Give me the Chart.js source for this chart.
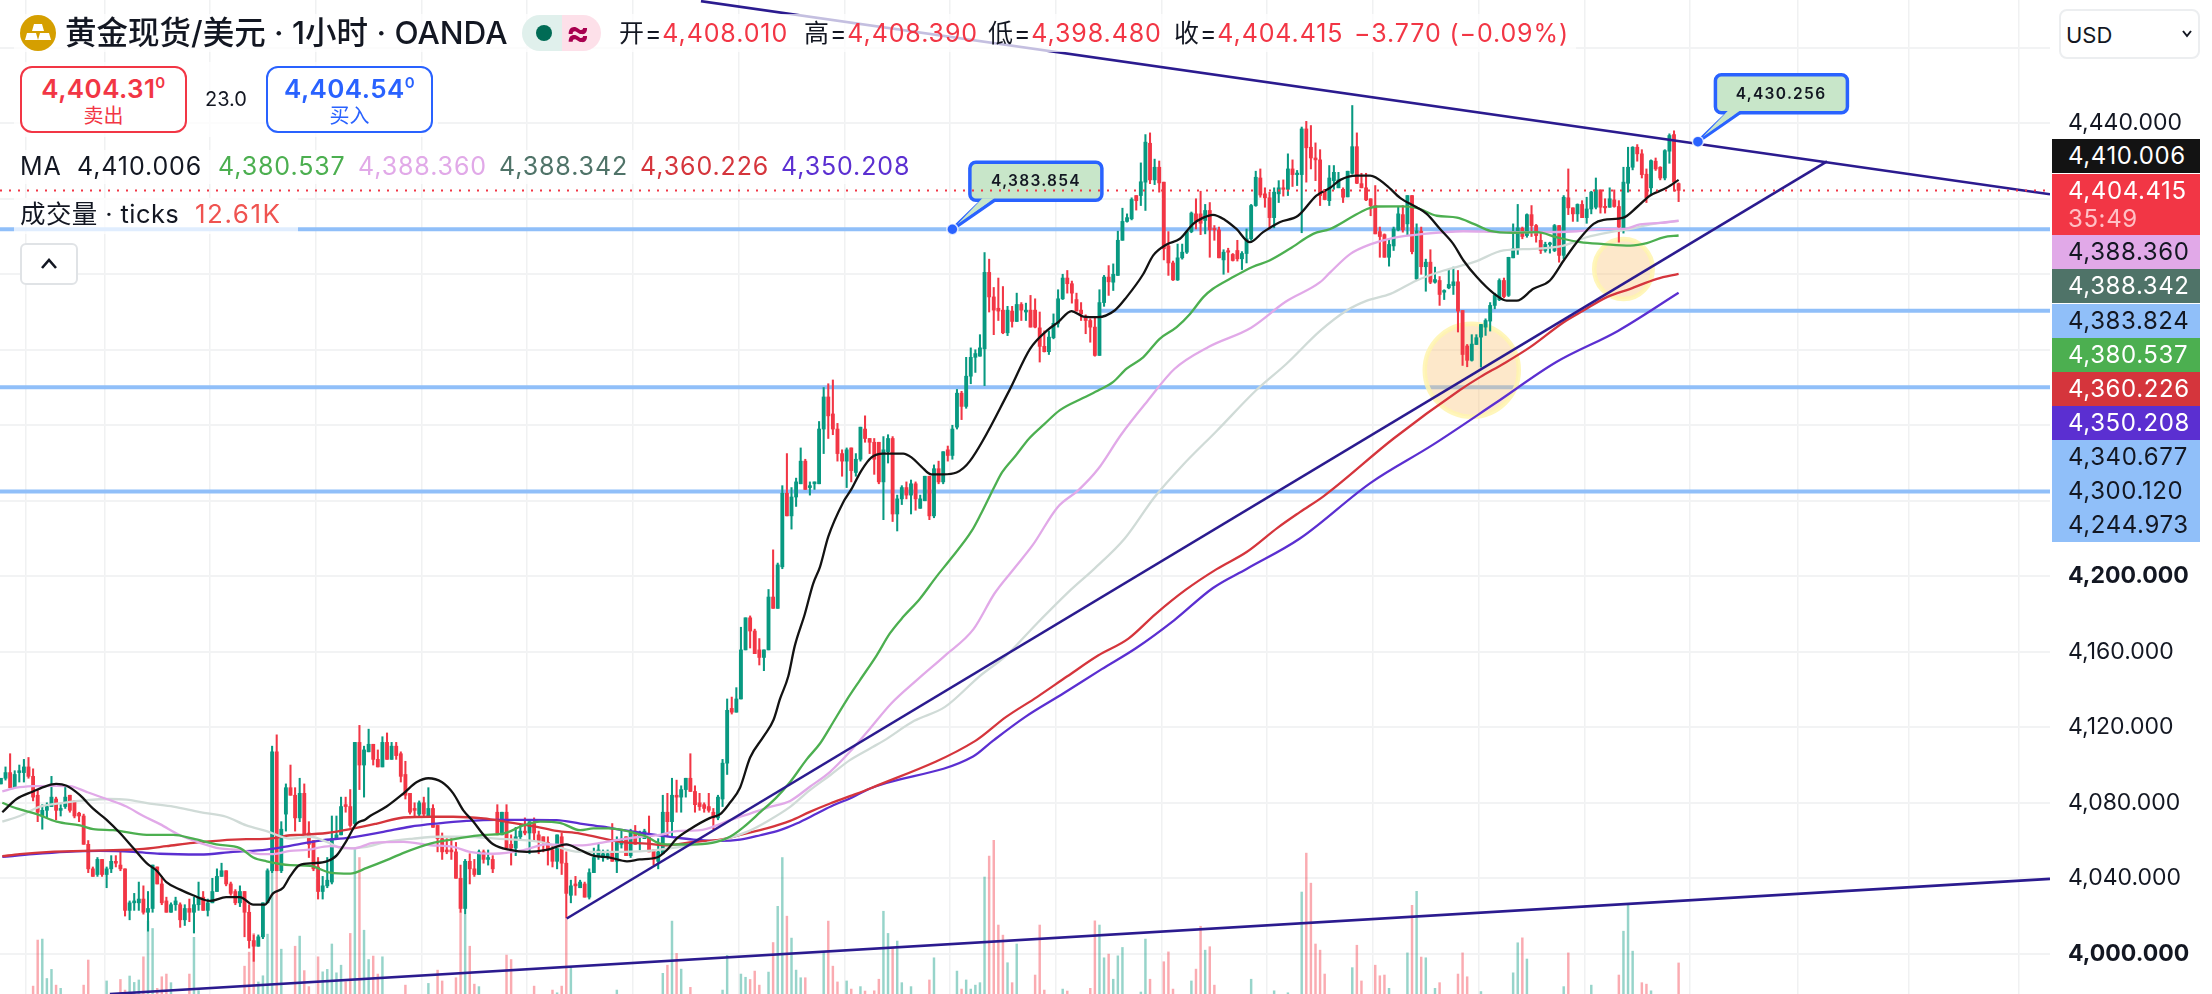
<!DOCTYPE html>
<html lang="zh">
<head>
<meta charset="utf-8">
<title>黄金现货/美元 · 1小时 · OANDA</title>
<script src="https://cdn.jsdelivr.net/npm/chart.js@4/dist/chart.umd.min.js"></script>
<style>
  html, body { margin: 0; padding: 0; background: #fff; }
  #wrap { position: relative; width: 2212px; height: 994px; overflow: hidden; font-family: Inter, "Noto Sans CJK SC", sans-serif; color: #131722; }
  #wrap canvas { position: absolute; left: 0; top: 0; }
  .t { position: absolute; white-space: nowrap; line-height: 1; }
  .num { font-size: 25px; letter-spacing: .9px; }
  .veil { position: absolute; background: rgba(255,255,255,.72); }
  .pill { position: absolute; left: 2052px; width: 148px; height: 34px; line-height: 34px; font-size: 24px; letter-spacing: .6px; text-indent: 16px; white-space: nowrap; }
  .box { position: absolute; box-sizing: border-box; width: 167px; height: 67px; border: 2.5px solid; border-radius: 12px; background: #fff; text-align: center; }
  .box b { display: block; font-size: 26px; font-weight: 600; letter-spacing: .4px; margin-top: 8px; line-height: 26px; }
  .box b sup { font-size: 15px; font-weight: 600; line-height: 0; }
  .box span { display: block; font-size: 20px; line-height: 22px; margin-top: 3px; }
  .note { position: absolute; width: 132px; text-align: center; font-size: 15.5px; font-weight: 600; letter-spacing: 1.3px; line-height: 1; color: #131722; }
</style>
</head>
<body>
<div id="wrap">
  <canvas id="chart" width="2212" height="994"></canvas>

  <div class="veil" style="left:14px;top:14px;width:1562px;height:38px"></div>
  <div class="veil" style="left:14px;top:62px;width:424px;height:75px"></div>
  <div class="veil" style="left:14px;top:150px;width:900px;height:34px"></div>
  <div class="veil" style="left:14px;top:198px;width:284px;height:36px"></div>

  <svg style="position:absolute;left:20px;top:15px" width="36" height="36" viewBox="0 0 36 36">
    <circle cx="18" cy="18" r="18" fill="#d59f00"/>
    <path d="M14 9h8l2 7H12z M7 18h9l2 7H5z M20 18h9l2 7H18z" fill="#fff"/>
  </svg>
  <div class="t" style="left:65px;top:17px;font-size:31.5px;font-weight:500">黄金现货/美元 · 1小时 · OANDA</div>
  <div style="position:absolute;left:522px;top:15px;width:40px;height:36px;background:#e0f0ec;border-radius:18px 0 0 18px"></div>
  <div style="position:absolute;left:562px;top:15px;width:39px;height:36px;background:#fde0e9;border-radius:0 18px 18px 0"></div>
  <div style="position:absolute;left:536px;top:25px;width:16px;height:16px;background:#006b55;border-radius:50%"></div>
  <div class="t" style="left:566px;top:15px;font-size:35px;font-weight:700;color:#a8004f">≈</div>

  <div class="t num" style="left:619px;top:21px">开=<span style="color:#f23645">4,408.010</span></div>
  <div class="t num" style="left:804px;top:21px">高=<span style="color:#f23645">4,408.390</span></div>
  <div class="t num" style="left:988px;top:21px">低=<span style="color:#f23645">4,398.480</span></div>
  <div class="t num" style="left:1174px;top:21px">收=<span style="color:#f23645">4,404.415</span></div>
  <div class="t num" style="left:1354px;top:21px;color:#f23645">−3.770 (−0.09%)</div>

  <div class="box" style="left:20px;top:66px;border-color:#f23645;color:#f23645"><b>4,404.31<sup>0</sup></b><span>卖出</span></div>
  <div class="t" style="left:205px;top:89px;font-size:20px">23.0</div>
  <div class="box" style="left:266px;top:66px;border-color:#2962ff;color:#2962ff"><b>4,404.54<sup>0</sup></b><span>买入</span></div>

  <div class="t num" style="left:20px;top:154px">MA</div>
  <div id="maValues"></div>

  <div class="t" style="left:20px;top:201px;font-size:25.5px;letter-spacing:.4px">成交量 · ticks</div>
  <div class="t" style="left:195px;top:201px;font-size:26px;letter-spacing:1.5px;color:#ef5350">12.61K</div>

  <div style="position:absolute;box-sizing:border-box;left:20px;top:243px;width:58px;height:42px;border:2px solid #e0e3e6;border-radius:6px;background:#fff"></div>
  <svg style="position:absolute;left:39px;top:257px" width="20" height="14" viewBox="0 0 20 14">
    <path d="M3 11 L10 3 L17 11" fill="none" stroke="#131722" stroke-width="2.6"/>
  </svg>

  <div style="position:absolute;box-sizing:border-box;left:2059px;top:9px;width:141px;height:50px;border:2px solid #eceef0;border-radius:8px;background:#fff"></div>
  <div class="t" style="left:2066px;top:24px;font-size:22px">USD</div>
  <svg style="position:absolute;left:2181px;top:29px" width="12" height="10" viewBox="0 0 12 10">
    <path d="M2 2 L6 7 L10 2" fill="none" stroke="#131722" stroke-width="2"/>
  </svg>

  <div id="pills"></div>
  <div class="note" style="left:970px;top:173px">4,383.854</div>
  <div class="note" style="left:1715px;top:86px">4,430.256</div>
</div>

<script>
// candles, one hour each
const opens = [
  4090,4093,4096,4088,4096,4096,4099,4094,4084,4073,
  4076,4078,4082,4076,4078,4084,4081,4074.5,4073,4058,
  4045,4042,4050,4042,4045,4049,4047,4045,4023,4027,
  4027,4029,4022,4024,4046,4037,4028,4022,4026,4026,
  4018,4024,4022,4026,4030,4023,4027,4033,4041,4044,
  4037,4033,4027,4033,4022,4007,4004,4009,4027,4044,
  4107,4044,4074,4088,4084,4072,4085,4064,4060,4046,
  4033,4036,4038,4061,4063,4079,4078,4069,4112,4100,
  4107,4111,4103,4099,4112,4103,4110,4106,4095,4085,
  4077,4074,4080,4073,4077,4068,4061,4055,4055,4054,
  4040,4024,4049,4045,4042,4054,4050,4050,4075,4063,
  4075,4058,4056,4062,4065,4064,4069,4063,4062,4059,
  4055,4049,4062,4048,4031,4037,4035,4037,4030,4043,
  4052,4051,4051,4054,4049,4058,4062,4052,4065,4062,
  4061,4063,4055,4049,4053,4075,4070,4084,4083,4087,
  4093,4086,4080,4079,4078,4075,4072,4082,4101,4130,
  4128,4135,4161,4178,4171,4161,4157,4161,4189,4183,
  4205,4244,4232,4242,4249,4261,4247,4249,4249,4278,
  4295,4286,4278,4265,4261,4268,4255,4262,4278,4273,
  4271,4271,4250,4266,4273,4233,4241,4247,4243,4249,
  4236,4240,4253,4232,4257,4250,4267,4264,4279,4297,
  4290,4306,4316,4316.6,4320.5,4361,4348,4342,4341,4329,
  4340.5,4335,4344,4340,4341,4341,4331.6,4321.8,4319,4326.4,
  4334,4347,4358,4355,4346.6,4341,4337,4335.5,4332,4317,
  4345,4358.5,4355.8,4359.4,4378,4388,4389.4,4401.7,4401.7,4408.8,
  4429.4,4410,4416.7,4408.8,4375,4366,4357,4368.7,4371.7,4382.6,
  4392,4392,4388.5,4393.8,4384,4383.5,4367.6,4372,4370.5,4372.6,
  4368.2,4371,4378.8,4396.4,4411,4402.6,4400.5,4390,4402.6,4405.8,
  4405,4415.8,4412.8,4412.8,4437,4427.3,4421.6,4420.6,4404,4399,
  4409.6,4405.8,4405,4401,4413.5,4427.6,4408,4405.8,4400,4396.4,
  4382.6,4381,4369,4375,4383.5,4391.6,4386.7,4401.7,4357.6,4382.8,
  4364,4366.4,4355.8,4356.7,4350.5,4352.8,4354,4356,4340.8,4322,
  4314.4,4322.8,4326.7,4332,4335.2,4343.5,4346.5,4356.7,4348.8,4368.7,
  4373,4384.4,4380.5,4391.6,4385.8,4378,4372.6,4375.8,4372.6,4385.8,
  4370,4400.5,4395.2,4392,4397,4390,4394.6,4395.5,4404.7,4395.9,
  4395.5,4399.4,4395.9,4384,4408.2,4416.7,4427.3,4423.8,4413,4405.8,
  4419.9,4416.7,4411,4425.2,4434,4408.01
];
const highs = [
  4093,4099,4106,4097,4100,4103,4104,4098,4087,4079,
  4080,4094,4083,4079,4089,4084,4081,4075,4074,4060,
  4046,4051,4050,4046,4052,4052,4055,4045,4028,4032,
  4038,4036,4033,4047,4046,4041,4030,4027,4030,4027,
  4026,4029,4030,4038,4033,4029,4040,4045,4048,4044,
  4038,4034,4036,4033,4026,4010,4010,4027,4045,4110,
  4116,4070,4090,4100,4088,4093,4090,4070,4060,4051,
  4041,4051,4073,4073,4083,4083,4087,4112,4121,4110,
  4119,4111,4108,4115,4117,4112,4112,4107,4102,4085,
  4080,4081,4083,4088,4079,4068,4064,4061,4061,4059,
  4047,4050,4053,4050,4055,4055,4055,4052,4079,4075,
  4079,4063,4067,4068,4072,4070,4072,4065,4062,4062,
  4058,4063,4064,4054,4039,4041,4039,4038,4045,4056,
  4058,4055,4055,4069,4062,4065,4062,4066,4068,4065,
  4066,4073,4055,4061,4084,4085,4093,4092,4089,4093,
  4106,4089,4085,4080,4085,4077,4084,4103,4135,4136,
  4141,4173,4178,4179,4172,4167,4161,4193,4214,4207,
  4248,4265,4247,4252,4268,4262,4250,4250,4282,4300,
  4302,4304,4281,4267,4268,4268,4265,4279,4285,4273,
  4273,4271,4274,4275,4274,4243,4248,4250,4251,4250,
  4243,4253,4253,4259,4261,4266,4269,4280,4299,4298,
  4316,4321,4320,4328,4371.5,4368,4353,4358,4353.5,4343,
  4343,4350,4345,4344.7,4348.8,4347,4340,4330,4330,4339,
  4351.8,4360,4362,4356.4,4350,4345,4338.5,4336.4,4337,4351.8,
  4359.4,4364.6,4365.5,4382.8,4395,4392,4400.5,4401.7,4419,4434,
  4434.9,4421,4420,4408.8,4382.6,4367,4376,4376,4383,4393,
  4400,4404,4397,4398,4385.8,4385,4373,4373.8,4371,4378,
  4372,4384,4397,4414.6,4415.8,4405.8,4403.5,4405.8,4409.6,4410,
  4423.8,4420.6,4415,4438,4441,4438.8,4429.6,4426,4405,4417.6,
  4417.6,4414,4405.8,4414.6,4449.4,4434.9,4413.5,4413.5,4400,4407,
  4385,4381.4,4378.8,4385,4395.5,4396.4,4401.7,4401.7,4386.7,4385,
  4368,4373,4363.8,4358.8,4351.8,4362.5,4363.8,4362,4340.8,4322.8,
  4328,4328,4333.4,4336.4,4345,4350,4357.6,4358,4369,4386.7,
  4397,4385,4392,4396.4,4386.4,4382.3,4377,4377,4386.4,4385.8,
  4401.7,4415.8,4395.2,4397.3,4399,4400.8,4404,4411,4404.7,4400,
  4405.8,4404.7,4399,4416.7,4427.3,4427.6,4428.7,4426,4415.8,4420.6,
  4421.6,4417,4426,4434.4,4436,4408.39
];
const lows = [
  4090,4092,4088,4088,4091,4091,4093,4081,4070,4066,
  4072,4078,4071,4073,4077,4075,4072,4070,4058,4043,
  4041,4041,4041,4035,4043,4046,4044,4020,4018,4023,
  4023,4021,4012,4022,4037,4026,4022,4022,4023,4014,
  4015,4017,4011,4023,4023,4020,4027,4033,4041,4036,
  4031,4026,4025,4009,4003,3996,4004,4008,4027,4043,
  4044,4043,4065,4084,4065,4070,4063,4051,4044,4029,
  4029,4035,4037,4061,4063,4075,4067,4068,4087,4083,
  4107,4100,4099,4099,4103,4103,4103,4091,4082,4074,
  4073,4073,4073,4073,4067,4054,4050,4053,4050,4040,
  4022,4021,4037,4041,4042,4048,4047,4043,4063,4063,
  4056,4047,4052,4060,4063,4053,4060,4053,4054,4047,
  4046,4045,4042,4019,4027,4031,4035,4030,4029,4043,
  4050,4049,4050,4049,4043,4056,4052,4051,4058,4055,
  4061,4054,4047,4045,4053,4062,4062,4075,4075,4083,
  4086,4075,4076,4075,4075,4066,4071,4078,4095,4127,
  4128,4135,4161,4162,4159,4153,4150,4161,4183,4183,
  4204,4232,4225,4237,4249,4246,4243,4246,4249,4265,
  4273,4275,4261,4253,4247,4250,4253,4261,4271,4265,
  4254,4249,4230,4260,4229,4224,4238,4241,4233,4235,
  4236,4240,4230,4231,4249,4249,4261,4262,4278,4283,
  4289,4302,4308,4316.6,4301,4340,4328,4335.5,4328.5,4327.5,
  4332,4335,4335.5,4335.5,4332,4331.6,4313.5,4318.8,4317.5,4325.8,
  4332,4346.6,4350,4344.7,4340.5,4335.5,4328.5,4324,4316.6,4317,
  4343,4348.8,4351.4,4359.4,4378,4387.6,4388.8,4394,4396.4,4393.8,
  4408,4407.5,4403.5,4367.6,4359.4,4356.7,4356.7,4368,4371,4382,
  4384,4381,4381.4,4369,4378,4368.7,4360,4361,4367,4367,
  4362.5,4366,4378,4396,4400.8,4395.5,4384,4384.6,4398,4401.4,
  4401.7,4406.5,4407,4382,4408.8,4415.8,4409.6,4396.4,4399.4,4396.4,
  4405,4405.8,4398,4401,4413,4408,4405.8,4399,4391,4381.4,
  4369,4369,4364.3,4372.6,4383,4382.3,4380.5,4370.8,4357,4360,
  4351,4355,4355.3,4343.5,4346.6,4352.3,4349.3,4329.4,4311.7,4311,
  4314,4322.8,4310.8,4327.6,4329.9,4341.7,4346,4347.5,4348.2,4368.7,
  4370.5,4378.8,4379.6,4380,4377,4371,4371.7,4371.2,4372,4366.4,
  4368.2,4391.6,4388,4388,4390,4387,4392,4394.6,4392.4,4392.4,
  4395.5,4395.5,4377,4381.8,4403.5,4415.3,4419.9,4411,4398,4402.6,
  4415,4410,4410,4418.8,4404,4398.48
];
const closes = [
  4093,4096,4088,4095,4097,4099,4094,4083,4075,4076,
  4078,4083,4076,4077,4083,4076,4073,4073,4058,4045,
  4041,4050,4042,4045,4049,4048,4045,4023,4027,4028,
  4029,4022,4024,4047,4037,4027,4022,4026,4028,4018,
  4024,4022,4026,4030,4023,4027,4033,4041,4044,4037,
  4032,4027,4033,4022,4007,4004,4009,4027,4044,4107,
  4044,4066,4088,4084,4072,4085,4063,4058,4045,4033,
  4036,4039,4061,4063,4078,4078,4068,4112,4100,4108,
  4111,4103,4099,4112,4103,4110,4105,4094,4084,4075,
  4076,4080,4074,4077,4067,4061,4054,4054,4054,4040,
  4024,4049,4045,4042,4054,4050,4051,4045,4064,4075,
  4056,4056,4062,4065,4064,4070,4064,4060,4059,4055,
  4049,4063,4048,4032,4036,4036,4038,4030,4043,4051,
  4055,4053,4053,4049,4059,4060,4052,4065,4058,4064,
  4065,4054,4050,4054,4075,4070,4084,4083,4087,4093,
  4086,4079,4078,4077,4076,4072,4083,4101,4129,4128,
  4135,4161,4178,4171,4159,4157,4161,4189,4183,4206,
  4244,4232,4242,4250,4261,4246,4248,4250,4278,4295,
  4285,4278,4265,4261,4267,4256,4262,4279,4273,4271,
  4262,4250,4267,4273,4233,4241,4247,4243,4249,4241,
  4241,4253,4232,4257,4250,4266,4264,4278,4297,4290,
  4306,4316,4318,4321,4361,4348,4341,4340.5,4329,4341,
  4335,4344,4341,4341,4332,4332,4321.8,4319,4326.7,4334,
  4347,4358,4355,4350,4340.5,4339,4335.5,4332,4317,4345,
  4358.5,4356,4360,4378,4388,4390,4399.6,4399,4409,4430,
  4410,4416.7,4408.4,4373.5,4366,4357,4368.7,4371.7,4382.6,4392.4,
  4388,4387,4393.8,4383.5,4383.5,4368.7,4371.7,4371.7,4367.3,4368.2,
  4371,4378.8,4396.4,4411.4,4402,4400.5,4390,4403.5,4405.8,4405,
  4415.8,4412.8,4413.4,4437,4427,4421.6,4420.6,4401.7,4399.6,4411,
  4414,4410,4400.8,4414.6,4427.6,4408.2,4405.8,4399.4,4396.4,4381.4,
  4380,4369,4375.8,4384,4392,4383.5,4401.7,4372,4383,4364,
  4366.4,4355.8,4357.2,4349.3,4351.4,4354.6,4356,4340.5,4317.5,4314.4,
  4323,4326.4,4333.4,4335.5,4343.5,4348.8,4356.7,4348.2,4369,4373.5,
  4384.6,4380,4391.6,4385.8,4380.5,4372.6,4375.8,4376.5,4385.8,4370,
  4400.8,4395.2,4392,4397,4390,4394.6,4403.5,4404.7,4395.5,4395.2,
  4400,4395.9,4385,4408.8,4416.7,4427.3,4423.8,4412.8,4400.5,4420.2,
  4415.8,4411,4425.5,4433.5,4408.8,4404.415
];

// volume in K ticks, only the bars tall enough to show above the crop
const volBars = [
  7,8,9,10,11,12,13,18,19,23,26,27,28,29,30,31,32,33,34,35,36,37,41,42,43,53,54,55,56,57,58,59,60,61,
  64,65,66,67,69,70,71,72,73,74,75,76,77,78,79,80,81,82,83,88,93,95,96,99,100,101,102,103,104,110,111,116,120,121,122,123,124,
  134,144,145,146,147,148,150,157,158,161,162,163,164,165,167,168,169,170,171,172,173,174,175,179,180,181,182,184,185,187,188,
  190,191,192,193,194,195,196,198,202,203,208,209,210,211,212,213,214,215,216,217,218,219,220,221,225,226,227,231,232,237,238,239,240,241,242,243,244,
  248,249,250,253,254,255,259,260,261,262,263,264,272,277,280,283,284,285,286,287,288,294,295,296,299,300,301,302,
  306,307,308,309,310,312,313,317,318,319,322,329,330,331,332,340,341,346,352,353,354,355,357,358,359,365
];
const volK = [
  3.2,21.9,22.3,6.3,10,3.6,2.3,3.6,13.8,5.3,5.9,1.6,7.3,4.7,5.7,15.1,29.6,26.6,2.3,7,8.1,4.6,8.1,23,1.4,11.3,17,24.6,4.9,7.4,24.3,50,55,18.2,
  19.4,23.5,9.5,3,15.1,9,10,20.3,8.6,11.7,5,24.6,58.7,55.4,25.9,14,15.4,8.1,15.1,3.6,4.3,9.7,5.3,6.6,33.3,32,19.4,4,3,15.8,14,3.2,1.6,0.5,3.2,30.6,10.7,
  1.6,8.4,11.7,29.6,16.5,10.1,2.7,1.6,15.7,8.1,6.8,5.9,9.3,3.6,8.9,20.9,35.6,55.4,31.6,22.7,9.7,6.6,6.6,16.9,29.6,11.3,4.9,5.3,2,3,1.2,
  1.3,6,33.6,24.6,18.5,21.5,4.6,3,5.7,14.7,9.3,2,5.7,2,3.6,4.6,47.5,56,62.4,28,23.9,12.7,4.6,20.3,7.7,28,1.6,2,1.2,2.3,29.7,28,14.7,16.2,6,15.5,18.9,
  0.8,22.3,6,13.1,17.1,2,5.3,10.1,27.5,17.8,19.2,3.6,6,1.3,0.5,41.4,57.2,45,20.3,17.8,8.1,10.7,19.8,5.3,11.7,7.4,7.7,2.3,
  16.7,36,41.7,15,14.7,2.3,4.6,8.1,16.7,7,1,8.6,20.8,22.8,14.2,3,16.7,3.6,7.7,25.5,36.3,17.4,4.6,4,1.3,12.61
];

// moving averages, sampled along each curve
const ma1Bars = [0.3,3.4,7,10,12,14.3,17.2,20,23,25.9,28.8,31.7,33.9,36,39,41.8,45.5,49,52,54.9,57.4,59.2,61.4,62.9,65,68,70.9,73,75.2,77.4,79.2,80.3,83.9,87.6,90.5,93,95.9,98.4,100.6,102.8,105,107.1,110.8,114.4,118.7,123,126,128.9,132.5,136.2,139,142.7,144.9,147,149.9,154.3,156.5,158.6,160.8,163,165.9,168.1,169.5,171.3,172.7,174.9,176.7,178.2,180,183.2,185,187.2,189.4,191.9,196.3,198.1,200.3,202.4,205,207.9,210.8,219.4,223.9,227.5,230,232.9,235.5,238.7,242.3,244.9,248.5,250.7,253.6,256.5,259.4,261.6,263.7,266.3,268.8,271.7,274.6,278.2,282.2,286.2,289.2,291.4,295,297.9,301.5,304.4,308,310.2,313.1,316,318.2,321.1,324.7,327.6,329.8,333.4,337,340,343.2,346.5,348.7,353,355.9,358.8,362.4,365];
const ma1 = [4075,4082,4086,4089,4090,4089,4084,4077,4071,4064,4056,4048,4044,4038,4034,4031,4028,4030,4030,4026,4026,4032,4035,4041,4047,4048,4049,4052,4060,4069,4071,4073,4078,4085,4091,4093,4091,4085,4076,4070,4063,4058,4055,4054,4055,4058,4055,4052,4051,4049,4050,4051,4055,4061,4066,4072,4074,4080,4088,4104,4115,4124,4135,4147,4163,4180,4196,4205,4221,4239,4246,4256,4263,4265,4265,4263,4258,4254,4254,4255,4261,4298.5,4320.5,4330,4334.6,4340.5,4337.6,4337.3,4340.8,4347.9,4360,4370,4375.8,4378.8,4386.7,4390,4391.5,4388.8,4384,4377,4382.3,4387.6,4391,4401.7,4405.8,4410,4412.3,4412.3,4407,4400.5,4395.5,4392,4384,4376,4367.3,4358.5,4350,4346,4346,4352.3,4356.7,4367.3,4378,4386.7,4388.8,4390,4395.5,4401.7,4405.8,4410.006];

const ma2Bars = [0.3,3.4,7.8,12.1,17.2,20.1,24.4,31.7,37.5,41.8,46.9,52,54.9,57.8,62.9,67.3,71.6,76,79.6,83.9,87.6,93.4,99.2,105,109.3,113.7,117.3,121.6,126,128.9,132.5,136.9,140.5,143.4,147,151.4,155.7,158.6,161.5,165.2,168.8,171.7,175.3,178.2,180.4,184,186.9,190.5,193.4,196.3,199.9,203.5,206.4,211.2,213.2,216.2,217.8,220.8,223.7,227,230.4,235.4,239,242,244.9,248.5,252.1,255.8,258.7,261.6,263.7,267.4,272.4,276,280.4,285.5,289.2,293.6,297.2,299.4,304.8,308,312.4,316.8,320.4,324,329.1,334.2,338.5,343.6,348.7,354.5,358.1,361.7,365];
const ma2 = [4080,4077,4074,4070,4068,4066,4065.5,4063,4063,4061,4058,4056,4051,4049,4047,4046.6,4043,4042.5,4045.5,4049.6,4053.5,4058.4,4061,4063,4063.7,4068,4070,4069.4,4065.5,4066.4,4066.4,4064.6,4062,4058.4,4057.9,4058,4059.3,4062,4067,4075,4083,4091,4103,4111.4,4120,4134.4,4145,4158,4169.7,4178.5,4188,4199.7,4208.5,4224,4233,4247.7,4255,4264,4273,4280.6,4288,4294.4,4298.8,4303,4310,4316,4325.8,4332,4339,4347.9,4352.3,4357.6,4364,4367.3,4373.5,4381.4,4384,4389.9,4394.6,4395.9,4396,4395.2,4391,4390,4386.7,4383,4382,4382.3,4379.6,4377,4376,4375.2,4376.5,4379.6,4380.537];

const ma3Bars = [0.3,3.4,7,12.1,15,18.6,23,27.3,31,34.6,39,43.3,47.6,52,56.4,59.2,62.9,66.5,71.6,76.7,81,87.6,93.4,98.4,102,107.1,113.7,118.7,126,130.4,134.7,139,143.4,147,152.1,155.7,158.6,163,167.3,171.7,176,180.4,184.7,189.1,193.7,199.5,205.4,211.6,216.2,220.4,224.5,229.9,234.5,238.7,243.7,249.5,255.3,262.8,272,279.5,287,289.2,293.6,297.9,303,309.5,318.2,326.9,335.6,342.9,348.7,353,356.6,361,365];
const ma3 = [4086,4088,4088.8,4089,4088.8,4085.8,4082,4078,4073,4068.7,4062.8,4058.8,4055.8,4055,4052.8,4052.8,4054.5,4055,4057,4055.8,4058.8,4059.3,4057.5,4056.7,4054,4053,4054.9,4058,4057.4,4058.8,4060.5,4062,4063,4065,4065.5,4068,4070.8,4074.3,4077.8,4081,4088.5,4096.4,4107,4119.4,4132.6,4145.5,4158,4172,4191,4204,4216.6,4236.6,4245.8,4256.8,4275,4293,4309.8,4321.6,4331.7,4345.4,4355.8,4361,4370.8,4375.8,4379.3,4381.4,4382.8,4382.3,4382.3,4382.8,4384,4384,4386.4,4387.2,4388.36];

const ma4Bars = [0.3,4.1,8.5,13.6,18.6,23.7,27.3,32.4,37.5,43.3,49,53.4,57.8,62.9,67.3,70.9,74.5,79.6,83.9,89.7,95.5,101.3,107.9,117.3,126,133.3,140.5,147.8,153.6,157.9,162.3,166.6,171.7,176,180.4,184.7,189.1,192,198.7,205.4,212.9,218.7,225.4,232.8,237.8,244.5,251,257,264.5,273.2,279.7,287,292.8,297.2,302.3,308,313.9,320.4,326.9,333.4,340,345,350.1,354.5,358.8,365];
const ma4 = [4070,4073,4078,4080,4081.4,4082,4081.7,4079.6,4078,4075,4072.6,4068,4065,4061,4062,4059.3,4055.8,4056.7,4059.3,4061,4062,4062,4061,4059.3,4054,4054,4054.5,4056.7,4058.8,4061,4064.6,4070,4077.8,4086.7,4094.6,4102.6,4108.8,4112.8,4123.4,4130.8,4147,4158,4175,4192.9,4203.8,4220,4242,4258.6,4277,4298.8,4312.6,4330,4340.8,4346,4349.6,4356.7,4362,4366.4,4372.6,4373.5,4375.2,4379.6,4382.3,4384,4386.4,4388.342];

const ma5Bars = [0.3,4.1,10.7,17.9,24.4,30.2,36,41.8,47.6,53.4,58.5,62.9,65,70.9,76.7,81.8,87.6,93.4,98.4,105,110,116.6,120.9,126,130.4,134.7,140.5,144.9,150.7,156.5,161.5,166.6,171.7,176,180.4,184.7,189.1,212,218.7,225.4,232,238.7,245.3,251.2,257.8,264.5,271.1,277.8,282.6,287.8,303,317.5,321.8,326.9,332.7,340,344.3,349.4,354.5,360.3,365];
const ma5 = [4051.7,4052.8,4054,4054.5,4054.9,4055.4,4057,4058.8,4060,4060.7,4061,4062.8,4063,4064,4066.4,4069,4072.2,4072.6,4072.6,4071.7,4069.9,4067.3,4065.1,4063.7,4061.4,4059.3,4058.4,4057.5,4059.3,4060.5,4063.4,4066.4,4070.4,4075.2,4079.6,4083.5,4087.6,4112.8,4125.5,4136,4147,4158,4167,4180,4192.9,4203.8,4213,4225.8,4234,4242.5,4273,4298.8,4305.5,4312.6,4321.4,4334.6,4340.8,4347.9,4352.3,4357.6,4360.226];

const ma6Bars = [0.3,7,14.3,21.5,28.8,34.6,43.3,50.5,57.8,62.9,69.4,76,83.2,89,94.8,101.3,107.9,115.1,120.9,126,131,135.4,140.5,145.6,150.7,156.5,160.8,165.2,169.5,173.1,177.5,181.1,184.7,189.1,211.5,215.8,222.8,231.2,239.5,247,255.3,263.7,271.1,282.6,298,311.5,325,338.4,351.8,365];
const ma6 = [4051.3,4052.8,4054,4054.5,4054,4053,4052.6,4054,4055.2,4057.2,4060,4061.6,4064.6,4067.3,4069,4070.4,4071,4071,4070.8,4069,4067.3,4065.5,4063.7,4062,4060.5,4059.8,4060.5,4062.8,4065.5,4069,4074.3,4078.7,4082.3,4087.6,4104.5,4112.8,4125.4,4138,4150.8,4162,4176.8,4193.8,4204,4220,4249.5,4269.6,4291.5,4313.5,4330,4350.208];

// drawn trend lines
const riseBars = [123.1,397.3];
const risePrices = [4018.7,4419.8];
const fallBars = [152.3,445.8];
const fallPrices = [4504.7,4402.4];
const baseBars = [23.7,445.8];
const basePrices = [3978.7,4039.7];

// horizontal levels
const levels = [4383.854,4300.120,4244.973];
const shortLevel = 4340.677;
const shortLevelStart = 239.2;
const lastPrice = 4404.415;

// axes
const priceTicks = [4000,4040,4080,4120,4160,4200,4240,4280,4320,4360,4400,4440,4480];
const boldTicks = [4000,4200,4400];
const gridBars = [-0.2,11,34,57,80,103,126,149,172,195,218,241,264,287,310,333,356,379,403,427];

// highlighted zones: centre bar, centre price, half width in bars, half height in price
const zoneBars = [320,353];
const zonePrices = [4309.2,4362.8];
const zoneHalfBars = [10.66,6.8];
const zoneHalfPrices = [25.7,17];

// callouts
const noteBars = [207,369.2];
const notePrices = [4383.854,4430.256];

// legend and pills
const maLabels = ['4,410.006','4,380.537','4,388.360','4,388.342','4,360.226','4,350.208'];
const maColors = ['#131722','#4caf50','#e1a9e8','#4f7368','#d5353c','#5b2fd1'];
const maLeft = [77,218,358,499,640,781];

const pillLabels = ['4,410.006','4,404.415','4,388.360','4,388.342','4,383.824','4,380.537','4,360.226','4,350.208','4,340.677','4,300.120','4,244.973'];
const pillTops = [139,173.5,235,269,303.5,337.5,371.5,405.5,439.5,473.5,507.5];
const pillFills = ['#131313','#f23645','#e1a9e8','#4f7368','#90bff9','#4caf50','#d5353c','#5b2fd1','#90bff9','#90bff9','#90bff9'];
const pillInks = ['#fff','#fff','#131722','#fff','#131722','#fff','#fff','#fff','#131722','#131722','#131722'];

const UP = '#089981';
const DOWN = '#f23645';
const candleColor = i => (closes[i] >= opens[i] ? UP : DOWN);
const volumeColor = i => (closes[i] >= opens[i] ? 'rgba(8,153,129,.42)' : 'rgba(242,54,69,.42)');
const xy = (xs, ys) => xs.map((x, i) => ({ x, y: ys[i] }));

function maLine(label, bars, values, color) {
    return {
        type: 'line', label, data: xy(bars, values), borderColor: color, borderWidth: 2.3,
        pointRadius: 0, cubicInterpolationMode: 'monotone', order: 20
    };
}

function straight(label, bars, prices, color, width, order, dash) {
    return {
        type: 'line', label, data: xy(bars, prices), borderColor: color, borderWidth: width,
        pointRadius: 0, order, borderDash: dash || []
    };
}

// legend values and price pills are plain elements over the canvas
const maHost = document.getElementById('maValues');
maLabels.forEach((text, i) => {
    const el = document.createElement('div');
    el.className = 't num';
    el.style.cssText = `left:${maLeft[i]}px;top:154px;color:${maColors[i]}`;
    el.textContent = text;
    maHost.appendChild(el);
});

const pillHost = document.getElementById('pills');
pillLabels.forEach((text, i) => {
    const el = document.createElement('div');
    el.className = 'pill';
    el.style.top = pillTops[i] + 'px';
    el.style.background = pillFills[i];
    el.style.color = pillInks[i];
    el.textContent = text;
    if (i === 1) {
        el.style.height = '61.5px';
        const sub = document.createElement('div');
        sub.textContent = '35:49';
        sub.style.color = '#ffc0c5';
        sub.style.marginTop = '-6px';
        el.appendChild(sub);
    }
    pillHost.appendChild(el);
});

const shapesPlugin = {
    id: 'shapes',
    beforeDatasetDraw(chart, args) {
        const label = chart.data.datasets[args.index].label;
        const { x, y } = chart.scales;
        const ctx = chart.ctx;
        if (label === 'wicks') {
            zoneBars.forEach((bar, i) => {
                const rx = Math.abs(x.getPixelForValue(bar + zoneHalfBars[i]) - x.getPixelForValue(bar));
                const ry = Math.abs(y.getPixelForValue(zonePrices[i] + zoneHalfPrices[i]) - y.getPixelForValue(zonePrices[i]));
                ctx.save();
                ctx.beginPath();
                ctx.ellipse(x.getPixelForValue(bar), y.getPixelForValue(zonePrices[i]), rx - 2, ry - 2, 0, 0, Math.PI * 2);
                ctx.fillStyle = 'rgba(250,195,115,.38)';
                ctx.fill();
                ctx.lineWidth = 4.5;
                ctx.strokeStyle = 'rgba(255,245,175,.85)';
                ctx.stroke();
                ctx.restore();
            });
        }
        if (label === 'last') {
            noteBars.forEach((bar, i) => {
                const ax = x.getPixelForValue(bar);
                const ay = y.getPixelForValue(notePrices[i]);
                const left = ax + 17.5;
                const top = ay - 67;
                ctx.save();
                ctx.lineJoin = 'round';
                ctx.strokeStyle = '#2962ff';
                ctx.fillStyle = '#c8e6c9';
                ctx.lineWidth = 3.5;
                ctx.beginPath();
                ctx.moveTo(ax, ay);
                ctx.lineTo(ax + 30, top + 38);
                ctx.lineTo(ax + 42, top + 38);
                ctx.closePath();
                ctx.fill();
                ctx.stroke();
                ctx.beginPath();
                ctx.roundRect(left, top, 132, 38, 6);
                ctx.fill();
                ctx.stroke();
                ctx.beginPath();
                ctx.moveTo(ax + 5, ay - 5);
                ctx.lineTo(ax + 30, top + 36);
                ctx.lineTo(ax + 42, top + 36);
                ctx.closePath();
                ctx.fill();
                ctx.beginPath();
                ctx.arc(ax, ay, 5.5, 0, Math.PI * 2);
                ctx.fillStyle = '#2962ff';
                ctx.strokeStyle = 'rgba(255,255,255,.8)';
                ctx.lineWidth = 1.5;
                ctx.fill();
                ctx.stroke();
                ctx.restore();
            });
        }
    }
};

new Chart(document.getElementById('chart').getContext('2d'), {
    data: {
        datasets: [
            // trend lines sit on top, volume at the bottom
            straight('rise', riseBars, risePrices, '#2b1b8f', 2.6, 10),
            straight('fall', fallBars, fallPrices, '#2b1b8f', 2.6, 10),
            straight('base', baseBars, basePrices, '#2b1b8f', 2.6, 10),
            straight('last', [-0.2, 445.8], [lastPrice, lastPrice], '#f23645', 2, 5, [2, 7]),
            maLine('ma1', ma1Bars, ma1, '#131313'),
            maLine('ma2', ma2Bars, ma2, '#4caf50'),
            maLine('ma3', ma3Bars, ma3, '#e1a9e8'),
            maLine('ma4', ma4Bars, ma4, '#d0dbd7'),
            maLine('ma5', ma5Bars, ma5, '#d5353c'),
            maLine('ma6', ma6Bars, ma6, '#5b2fd1'),
            {
                type: 'bar', label: 'bodies', order: 30, grouped: false, barThickness: 3.2, minBarLength: 1.5,
                data: opens.map((o, i) => ({ x: i, y: [o, closes[i]] })),
                backgroundColor: opens.map((o, i) => candleColor(i))
            },
            {
                type: 'bar', label: 'wicks', order: 31, grouped: false, barThickness: 1.4,
                data: opens.map((o, i) => ({ x: i, y: [lows[i], highs[i]] })),
                backgroundColor: opens.map((o, i) => candleColor(i))
            },
            straight('level1', [-0.2, 445.8], [levels[0], levels[0]], '#90bff9', 4, 50),
            straight('level2', [-0.2, 445.8], [levels[1], levels[1]], '#90bff9', 4, 50),
            straight('level3', [-0.2, 445.8], [levels[2], levels[2]], '#90bff9', 4, 50),
            straight('level4', [shortLevelStart, 445.8], [shortLevel, shortLevel], '#90bff9', 4, 50),
            {
                type: 'bar', label: 'volume', order: 60, grouped: false, barThickness: 1.8, yAxisID: 'yVol',
                data: volBars.map((bar, i) => ({ x: bar, y: volK[i] })),
                backgroundColor: volBars.map(bar => volumeColor(bar))
            }
        ]
    },
    options: {
        responsive: false,
        animation: false,
        layout: { padding: 0, autoPadding: false },
        plugins: { legend: { display: false }, tooltip: { enabled: false } },
        scales: {
            x: {
                type: 'linear', min: -0.2, max: 445.8, offset: false, display: true,
                border: { display: false },
                grid: { color: '#f0f1f2', lineWidth: 1.5, drawTicks: false },
                ticks: { display: false, padding: 0 },
                afterBuildTicks(scale) { scale.ticks = gridBars.map(value => ({ value })); },
                afterFit(scale) { scale.height = 0; scale.paddingTop = 0; scale.paddingBottom = 0; }
            },
            y: {
                position: 'right', min: 3978.7, max: 4505.3,
                border: { display: false },
                grid: { color: '#f2f3f4', lineWidth: 2, drawTicks: false },
                ticks: {
                    padding: 18, color: '#131722', autoSkip: false,
                    font: ctx => ({
                        family: 'Inter', size: 23,
                        weight: boldTicks.includes(ctx.tick && ctx.tick.value) ? '700' : '400'
                    }),
                    callback: value => value.toLocaleString('en-US', { minimumFractionDigits: 3, maximumFractionDigits: 3 })
                },
                afterBuildTicks(scale) { scale.ticks = priceTicks.map(value => ({ value })); },
                afterFit(scale) { scale.width = 162; scale.paddingTop = 0; scale.paddingBottom = 0; }
            },
            yVol: { display: false, min: 0, max: 403.6 }
        }
    },
    plugins: [shapesPlugin]
});
</script>
</body>
</html>
